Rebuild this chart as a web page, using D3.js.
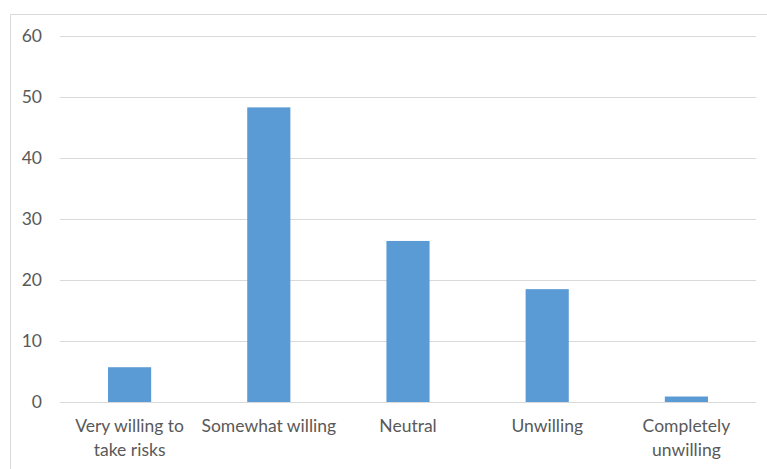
<!DOCTYPE html>
<html><head><meta charset="utf-8">
<script src="https://cdn.jsdelivr.net/npm/d3@7"></script>
<style>
html,body{margin:0;padding:0;background:#fff;}
svg{display:block;}
text{font-family:Lato,"Open Sans",sans-serif;fill:#595959;}
</style></head>
<body>
<svg id="chart" width="767" height="469"></svg>
<script>
const categories = ["Very willing to take risks","Somewhat willing","Neutral","Unwilling","Completely unwilling"];
const values = [5.7, 48.3, 26.4, 18.5, 0.9];
const yTicks = [0,10,20,30,40,50,60];

const FONT = "Lato,'Open Sans',sans-serif";
const FS = 17.5;
const svg = d3.select("#chart");
const W = 767, H = 469;
const m = {left:60, right:11, top:36, bottom:67};

// outer frame
svg.append("path").attr("d", `M10.5,${H}V14.5H${W}`).attr("fill","none").attr("stroke","#d9d9d9").attr("stroke-width",1);

const x = d3.scaleBand().domain(categories).range([m.left, W - m.right]).paddingInner(0.69).paddingOuter(0.345);
const y = d3.scaleLinear().domain([0,60]).range([H - m.bottom, m.top]);

// gridlines
svg.append("g").selectAll("line").data(yTicks).join("line")
  .attr("x1", m.left).attr("x2", W - m.right)
  .attr("y1", d => Math.round(y(d)) + 0.5).attr("y2", d => Math.round(y(d)) + 0.5)
  .attr("stroke", "#d9d9d9").attr("stroke-width", 1);

// y axis labels
const yAxis = d3.axisLeft(y).tickValues(yTicks).tickSize(0).tickPadding(0);
const gy = svg.append("g").attr("transform", `translate(42,0)`).call(yAxis);
gy.select(".domain").remove();
gy.selectAll("text").attr("font-size", FS).attr("font-family",FONT).attr("fill","#595959");

// bars
svg.append("g").selectAll("rect").data(values).join("rect")
  .attr("x", (d,i) => x(categories[i]))
  .attr("width", x.bandwidth())
  .attr("y", d => y(d))
  .attr("height", d => y(0) - y(d))
  .attr("fill", "#5b9bd5");

// x axis labels
const xAxis = d3.axisBottom(x).tickSize(0).tickPadding(0);
const gx = svg.append("g").attr("transform", `translate(0,${y(0)})`).call(xAxis);
gx.select(".domain").remove();
gx.selectAll("text").attr("font-size", FS).attr("font-family",FONT).attr("fill","#595959")
  .each(function(d){
    const t = d3.select(this);
    const words = d.split(" ");
    const maxW = x.step() - 2;
    t.text(null);
    let lines = [], cur = [];
    const tmp = t.append("tspan");
    for (const w of words) {
      const test = cur.concat(w).join(" ");
      tmp.text(test);
      if (tmp.node().getComputedTextLength() > maxW && cur.length) { lines.push(cur.join(" ")); cur = [w]; }
      else cur.push(w);
    }
    lines.push(cur.join(" "));
    tmp.remove();
    t.attr("dy", null).attr("y", 0);
    lines.forEach((ln, k) => {
      t.append("tspan").attr("x", 0).attr("y", 30 + k * 24).text(ln);
    });
  });
</script>
</body></html>
